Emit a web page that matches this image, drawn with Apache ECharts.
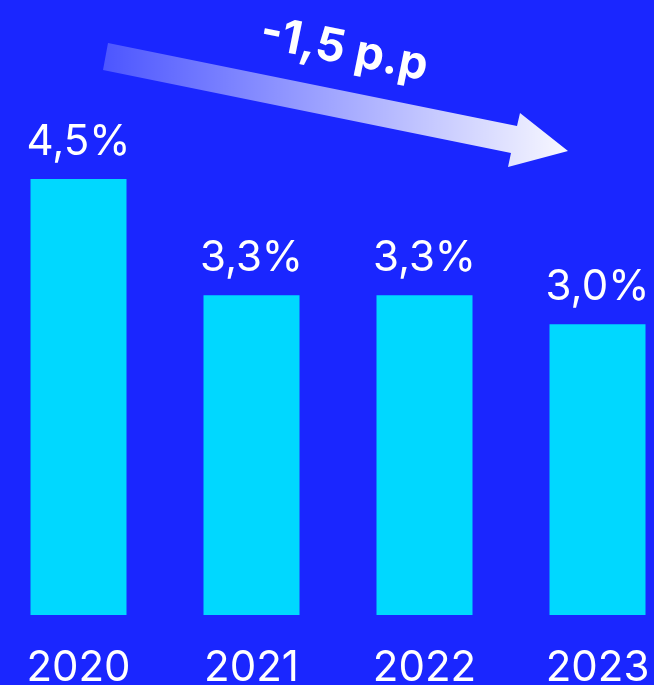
<!DOCTYPE html>
<html>
<head>
<meta charset="utf-8">
<script src="https://cdn.jsdelivr.net/npm/echarts@6/dist/echarts.min.js"></script>
<style>
  html,body{margin:0;padding:0;background:#1a26ff;}
  #chart{width:654px;height:685px;}
</style>
</head>
<body>
<div id="chart"></div>
<script>
  // data
  var years = ['2020', '2021', '2022', '2023'];
  var rates = [4.5, 3.3, 3.3, 3.0];
  var changeLabel = '-1,5 p.p';

  var myChart = echarts.init(document.getElementById('chart'));
  var option = {
    backgroundColor: '#1a26ff',
    animation: false,
    grid: {
      left: -8,
      width: 692,
      top: 179,
      bottom: 70,
      containLabel: false,
      outerBoundsMode: 'none'
    },
    xAxis: {
      type: 'category',
      data: years,
      axisLine: { show: false },
      axisTick: { show: false },
      axisLabel: {
        color: '#fff',
        fontSize: 42,
        fontFamily: 'Inter',
        margin: 32
      }
    },
    yAxis: {
      type: 'value',
      min: 0,
      max: 4.5,
      show: false,
      splitLine: { show: false }
    },
    series: [{
      type: 'bar',
      data: rates,
      barWidth: 96,
      itemStyle: { color: '#00d8ff' },
      label: {
        show: true,
        position: 'top',
        distance: 16,
        color: '#fff',
        fontSize: 42,
        fontFamily: 'Inter',
        formatter: function (p) {
          return p.value.toFixed(1).replace('.', ',') + '%';
        }
      }
    }],
    graphic: [
      {
        type: 'polygon',
        shape: {
          points: [[108, 43], [517, 126], [520, 113], [568, 151], [508, 167], [511, 153], [103, 70]]
        },
        style: {
          fill: new echarts.graphic.LinearGradient(0, 0, 1, 0, [
            { offset: 0, color: 'rgba(255,255,255,0.22)' },
            { offset: 1, color: 'rgba(255,255,255,0.97)' }
          ])
        }
      },
      {
        type: 'text',
        x: 344,
        y: 50,
        rotation: -0.2,
        style: {
          text: changeLabel,
          fill: '#fff',
          font: 'bold 46px Inter',
          textAlign: 'center',
          textVerticalAlign: 'middle'
        }
      }
    ]
  };
  myChart.setOption(option);
</script>
</body>
</html>
